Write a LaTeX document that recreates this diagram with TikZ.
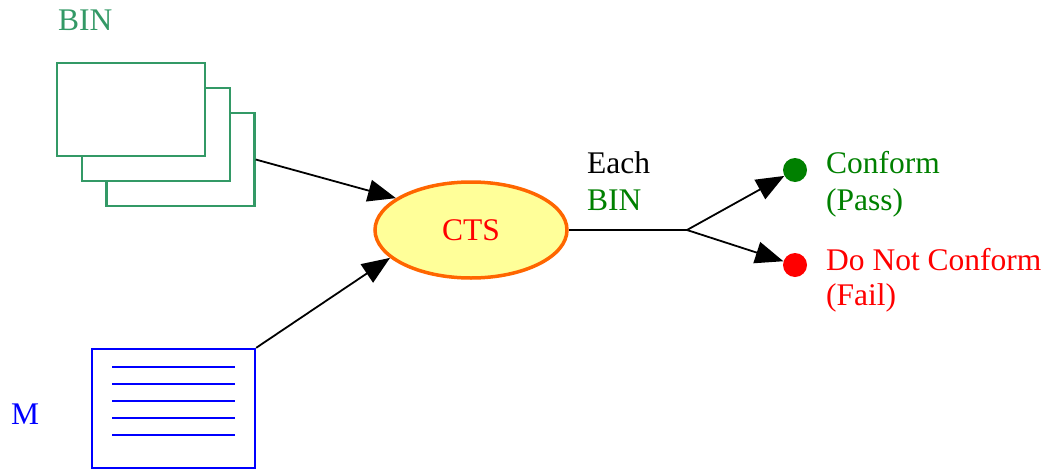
\documentclass[tikz,border=0pt]{standalone}
\usepackage{fontspec}
\setmainfont{Liberation Serif}
\usetikzlibrary{shapes.geometric,arrows.meta}
\definecolor{binframe}{RGB}{51,153,102}
\definecolor{passgreen}{RGB}{0,128,0}
\definecolor{ctsfill}{RGB}{255,255,153}
\definecolor{ctsline}{RGB}{255,102,0}
\tikzset{
  lbl/.style={font=\fontsize{31.5}{38}\selectfont, inner sep=0pt, anchor=base west},
  card/.style={draw=binframe, line width=2.4pt, fill=white, minimum width=148pt, minimum height=93pt, inner sep=0pt},
  flow/.style={draw=black, line width=1.8pt, -{Triangle[length=28pt,width=22pt]}},
  dot/.style={circle, inner sep=0pt, minimum size=24pt},
}
\begin{document}
\begin{tikzpicture}[x=1pt,y=-1pt]
\useasboundingbox (0,0) rectangle (1050,469);
% stacked input cards
\node[card] (bin3) at (180.5,159.5) {};
\node[card] (bin2) at (156,134.5) {};
\node[card] (bin1) at (131,109.5) {};
\node[lbl, text=binframe] (binlbl) at (58,30) {BIN};
% master document
\node[draw=blue, line width=2.4pt, minimum width=163pt, minimum height=119pt, inner sep=0pt] (doc) at (173.5,408.5) {};
\foreach \yy in {367,384,401,418,435}
  \draw[blue, line width=2pt] (112,\yy) -- (235,\yy);
\node[lbl, text=blue] (mlbl) at (11,424) {M};
% checker
\node[ellipse, draw=ctsline, fill=ctsfill, line width=3.5pt, minimum width=192pt, minimum height=96pt, inner sep=0pt, font=\fontsize{31.5}{38}\selectfont, text=red] (cts) at (471,230) {CTS};
\draw[flow] (bin3.east) -- (cts.157);
\draw[flow] (doc.north east) -- (cts.199);
% outcome
\coordinate (split) at (687,230);
\draw[line width=1.8pt] (cts.east) -- (split);
\node[dot, fill=passgreen] (pass) at (795,170) {};
\node[dot, fill=red] (fail) at (795,265) {};
\draw[flow] (split) -- (pass);
\draw[flow] (split) -- (fail);
\node[lbl] (each) at (587,173) {Each};
\node[lbl, text=passgreen] (eachbin) at (587,210) {BIN};
\node[lbl, text=passgreen] (conf) at (826,173) {Conform};
\node[lbl, text=passgreen] (passlbl) at (826,210) {(Pass)};
\node[lbl, text=red] (nconf) at (826,270) {Do Not Conform};
\node[lbl, text=red] (faillbl) at (826,305) {(Fail)};
\end{tikzpicture}
\end{document}
